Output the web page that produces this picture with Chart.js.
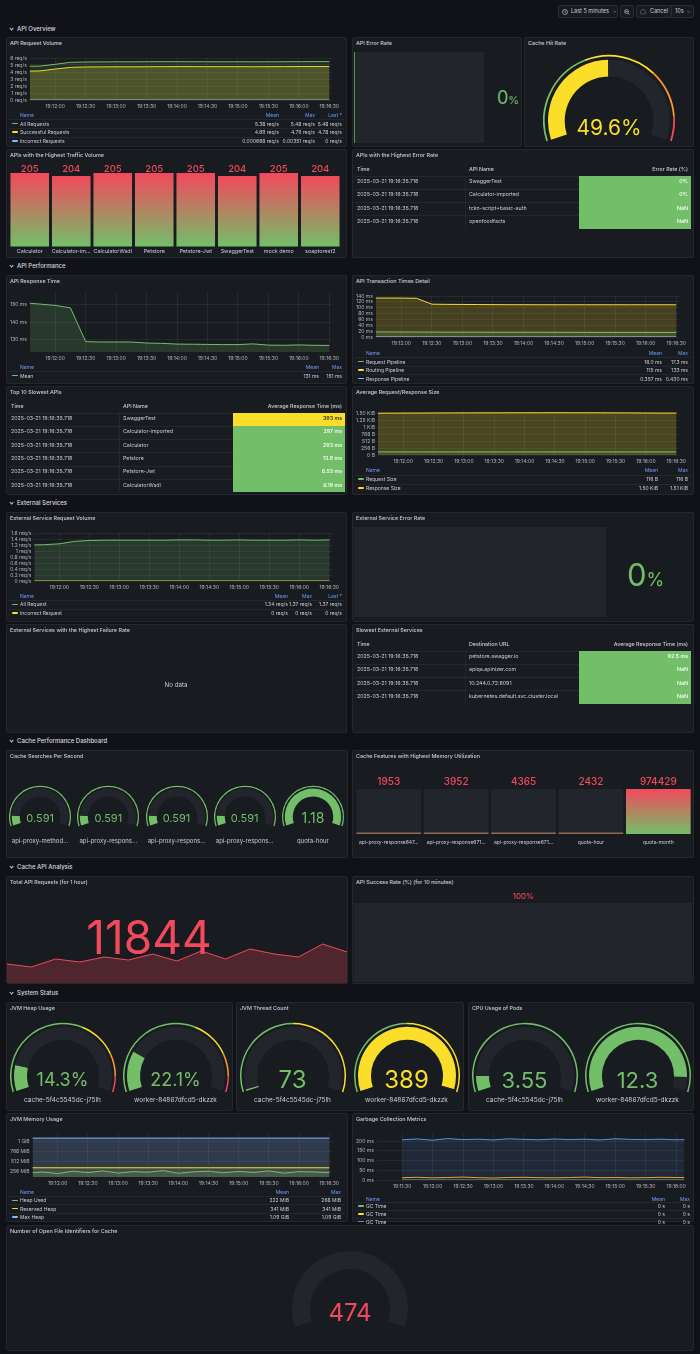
<!DOCTYPE html>
<html>
<head>
<meta charset="utf-8">
<script src="https://cdn.jsdelivr.net/npm/chart.js@4.4.1/dist/chart.umd.min.js"></script>
<style>
  html, body { margin: 0; padding: 0; }
  body { width: 700px; height: 1354px; background: #111217; position: relative; overflow: hidden;
         font-family: Inter, "Noto Sans", sans-serif; color: #ccccdc; }
  .panel { position: absolute; background: #181b1f; border: 1px solid #24272d; border-radius: 2px; box-sizing: border-box; }
  .t { position: absolute; white-space: nowrap; line-height: 1; }
  .r { position: absolute; }
  .r svg { display: block; }
  canvas { position: absolute; }
</style>
</head>
<body>
<script>
// ---------- data ----------
const sampleTimes = ['19:11:30','19:11:45','19:12:00','19:12:15','19:12:30','19:12:45','19:13:00','19:13:15','19:13:30','19:13:45',
  '19:14:00','19:14:15','19:14:30','19:14:45','19:15:00','19:15:15','19:15:30','19:15:45','19:16:00','19:16:15','19:16:30'];
const timeTicks = ['19:11:30','19:12:00','19:12:30','19:13:00','19:13:30','19:14:00','19:14:30','19:15:00','19:15:30','19:16:00','19:16:30'];

const allRequests = [4.82,4.84,5.10,5.38,5.43,5.44,5.45,5.45,5.46,5.47,5.47,5.46,5.46,5.45,5.46,5.45,5.45,5.46,5.47,5.48,5.48];
const successfulRequests = [4.12,4.15,4.42,4.66,4.72,4.73,4.74,4.74,4.75,4.76,4.77,4.77,4.76,4.76,4.76,4.75,4.76,4.77,4.78,4.78,4.78];
const incorrectRequests = [0,0,0,0,0,0,0,0.0035,0,0,0,0,0,0,0,0,0,0,0,0,0];
const reqVolumeStats = [['5.38 req/s','5.48 req/s','5.48 req/s'],['4.69 req/s','4.79 req/s','4.78 req/s'],['0.000668 req/s','0.00351 req/s','0 req/s']];

const apiErrorRate = 0;
const cacheHitRate = 49.6;

const trafficApis = ['Calculator','Calculator-imported','CalculatorWsdl','Petstore','Petstore-Jwt','SwaggerTest','mock demo','soaptorest2'];
const trafficCounts = [205,204,205,205,205,204,205,204];

const snapshotTime = '2025-03-21 19:16:35.718';
const errorRateApis = ['SwaggerTest','Calculator-imported','tckn-script+basic-auth','openfoodfacts'];
const errorRates = [0,0,NaN,NaN];

const responseTimeMean = [151.2,150.5,149.7,148.3,128.7,128.5,128.5,128.5,127.9,127.7,127.3,127.2,127.1,127.0,127.0,127.4,126.7,126.6,126.8,126.6,126.5];
const responseTimeStats = [['131 ms','151 ms']];

const requestPipeline = [17.3,17.2,17.0,16.8,16.5,16.4,16.3,16.2,16.1,16.0,16.0,15.9,15.8,15.7,15.6,15.6,15.5,15.5,15.5,15.4,15.4];
const routingPipeline = [133,133,132.8,132.2,112,111.5,111.2,110.8,110.5,110.3,110.2,110.1,110,110,110,110,110,110,110,110,110];
const responsePipeline = [0.43,0.41,0.39,0.38,0.36,0.36,0.35,0.35,0.35,0.35,0.35,0.35,0.35,0.35,0.35,0.35,0.35,0.35,0.35,0.35,0.35];
const transactionStats = [['16.0 ms','17.3 ms'],['115 ms','133 ms'],['0.357 ms','0.430 ms']];

const slowApis = ['SwaggerTest','Calculator-imported','Calculator','Petstore','Petstore-Jwt','CalculatorWsdl'];
const slowApiMs = [393,297,293,13.8,6.53,6.19];

const requestSize = [116,116,116,116,116,116,116,116,116,116,116,116,116,116,116,116,116,116,116,116,116];
const responseSize = [1530,1532,1534,1536,1538,1540,1541,1542,1543,1544,1545,1545,1546,1545,1544,1544,1542,1540,1537,1535,1534];
const sizeStats = [['116 B','116 B'],['1.50 KiB','1.51 KiB']];

const extAllRequest = [1.20,1.21,1.24,1.32,1.35,1.36,1.36,1.36,1.36,1.36,1.37,1.37,1.36,1.36,1.37,1.36,1.36,1.36,1.37,1.36,1.37];
const extIncorrectRequest = [0,0,0,0,0,0,0,0,0,0,0,0,0,0,0,0,0,0,0,0,0];
const extStats = [['1.34 req/s','1.37 req/s','1.37 req/s'],['0 req/s','0 req/s','0 req/s']];
const extErrorRate = 0;

const slowExtUrls = ['petstore.swagger.io','apiqa.apinizer.com','10.244.0.72:8091','kubernetes.default.svc.cluster.local'];
const slowExtMs = [92.5,NaN,NaN,NaN];

const cacheSearchNames = ['api-proxy-method...','api-proxy-respons...','api-proxy-respons...','api-proxy-respons...','quota-hour'];
const cacheSearchRates = [0.591,0.591,0.591,0.591,1.18];

const cacheFeatures = ['api-proxy-response647...','api-proxy-response671...','api-proxy-response671...','quota-hour','quota-month'];
const cacheMemory = [1953,3952,4365,2432,974429];

const totalRequests = 11844;
const requestsTrend = [380,320,480,420,520,460,580,440,640,480,680,580,520,780,620];
const successRate = 100;

const podNames = ['cache-5f4c5545dc-j75lh','worker-84867dfcd5-dkzzk'];
const heapUsage = [14.3,22.1];
const threadCount = [73,389];
const cpuUsage = [3.55,12.3];

const heapUsed = [205,230,190,250,215,260,200,240,225,268,195,235,250,210,245,220,260,200,240,230,215];
const reservedHeap = [341,341,341,341,341,341,341,341,341,341,341,341,341,341,341,341,341,341,341,341,341];
const maxHeap = [1116,1116,1116,1116,1116,1116,1116,1116,1116,1116,1116,1116,1116,1116,1116,1116,1116,1116,1116,1116,1116];
const memoryStats = [['222 MiB','268 MiB'],['341 MiB','341 MiB'],['1.09 GiB','1.09 GiB']];

const gcTimeA = [0,0,0,0,0,0,0,0,0,0,0,0,0,0,0,0,0,0,0,0,0];
const gcTimeB = [12,14,11,13,15,12,10,13,14,12,11,13,15,12,13,11,12,14,13,12,12];
const gcTimeC = [208,212,206,214,209,211,207,213,210,208,212,209,211,207,213,210,209,211,208,210,209];
const gcStats = [['0 s','0 s'],['0 s','0 s'],['0 s','0 s']];

const openFiles = 474;

// ---------- style ----------
const GREEN = '#73BF69', YELLOW = '#FADE2A', RED = '#F2495C', ORANGE = '#FF9830', BLUE = '#8AB8FF', GBLUE = '#5794F2';
const TRACK = '#22252b', GRID = 'rgba(204,204,220,0.08)', TICK = '#b4b4c2', HEAD = '#6E9FFF';
const FS = 5;   // small text (ticks, legends)

Chart.defaults.font.family = 'Inter, sans-serif';
Chart.defaults.color = TICK;

// ---------- helpers ----------
function rect(x, y, w, h, bg) {
  const d = document.createElement('div');
  d.className = 'r';
  d.style.cssText = `left:${x}px;top:${y}px;width:${w}px;height:${h}px;background:${bg}`;
  document.body.appendChild(d);
  return d;
}
function hline(x, y, w) { return rect(x, y, w, 1, 'rgba(204,204,220,0.07)'); }

function txt(x, y, s, o) {
  o = o || {};
  const d = document.createElement('div');
  d.className = 't';
  d.textContent = s;
  const tx = o.align === 'c' ? '-50%' : o.align === 'r' ? '-100%' : '0';
  d.style.cssText = `left:${x}px;top:${y}px;transform:translate(${tx},-50%);font-size:${o.size || 6}px;` +
    `color:${o.color || '#ccccdc'};font-weight:${o.weight || 400}`;
  document.body.appendChild(d);
  return d;
}

function panel(x, y, w, h, title) {
  const p = document.createElement('div');
  p.className = 'panel';
  p.style.cssText = `left:${x}px;top:${y}px;width:${w}px;height:${h}px`;
  document.body.appendChild(p);
  if (title) txt(x + 4, y + 6.5, title, {size: 5.4, weight: 500});
}

function rowHeader(label, y) {
  const c = rect(9.5, y - 2.4, 2.2, 2.2, 'transparent');
  c.style.borderRight = '1px solid #ccccdc';
  c.style.borderBottom = '1px solid #ccccdc';
  c.style.transform = 'rotate(45deg)';
  txt(17, y, label, {size: 6, weight: 500, color: '#d8d9e0'});
}

function makeCanvas(x, y, w, h) {
  const c = document.createElement('canvas');
  c.width = w; c.height = h;
  c.style.cssText = `left:${x}px;top:${y}px;width:${w}px;height:${h}px`;
  document.body.appendChild(c);
  return c;
}

const base = 19 * 3600 + 12 * 60;
const toSec = s => { const [h, m, sec] = s.split(':').map(Number); return h * 3600 + m * 60 + sec - base; };
const secs = sampleTimes.map(toSec);
const tickLabel = v => timeTicks[timeTicks.map(toSec).indexOf(v)] || '';

function timeSeries(x, y, w, h, series, yc, xr) {
  xr = xr || [-25, 273];
  return new Chart(makeCanvas(x, y, w, h), {
    type: 'line',
    data: {
      datasets: series.map(s => ({
        data: s.values.map((v, i) => ({x: secs[i], y: v})),
        borderColor: s.color, borderWidth: 1, pointRadius: 0, tension: 0,
        fill: s.fill ? 'start' : false, backgroundColor: s.fill || 'transparent'
      }))
    },
    options: {
      responsive: false, animation: false, events: [], devicePixelRatio: 1,
      layout: {padding: {top: 3, right: 4}},
      plugins: {legend: {display: false}, tooltip: {enabled: false}},
      scales: {
        x: {type: 'linear', min: xr[0], max: xr[1], border: {display: false},
            grid: {color: GRID, drawTicks: false},
            ticks: {stepSize: 30, includeBounds: false, autoSkip: false, maxRotation: 0, padding: 3,
                    font: {size: FS}, color: TICK, callback: tickLabel}},
        y: {min: yc.min, max: yc.max, border: {display: false},
            grid: {color: GRID, drawTicks: false},
            ticks: {stepSize: yc.step, includeBounds: false, autoSkip: false, padding: 3, font: {size: FS}, color: TICK, callback: yc.fmt}}
      }
    }
  });
}

function legend(px, pw, top, rowH, cols, rows) {
  txt(px + 14, top, 'Name', {size: FS, color: HEAD});
  cols.forEach(c => txt(px + c.r, top, c.h, {size: FS, color: HEAD, align: 'r'}));
  rows.forEach((r, i) => {
    const y = top + rowH * (i + 1);
    hline(px + 3, y - rowH / 2, pw - 6);
    rect(px + 6, y - 0.8, 6, 1.6, r.color).style.borderRadius = '1px';
    txt(px + 14, y, r.name, {size: FS});
    r.vals.forEach((v, j) => txt(px + cols[j].r, y, v, {size: FS, align: 'r'}));
  });
}

function table(px, py, heads, rows, cellColors, cellText) {
  const hy = py + 21, top0 = py + 26.5, rh = 13.3, fs = 5.3;
  txt(px + 5, hy, heads[0], {size: fs, weight: 500});
  txt(px + 117, hy, heads[1], {size: fs, weight: 500});
  txt(px + 336, hy, heads[2], {size: fs, weight: 500, align: 'r'});
  rect(px + 113, top0, 1, rh * rows.length, 'rgba(204,204,220,0.06)');
  rows.forEach((r, i) => {
    const y0 = top0 + i * rh;
    hline(px + 3, y0, 224);
    rect(px + 227, y0, 112, rh, cellColors[i]);
    txt(px + 5, y0 + rh / 2, r[0], {size: fs});
    txt(px + 117, y0 + rh / 2, r[1], {size: fs});
    txt(px + 336, y0 + rh / 2, r[2], {size: fs, align: 'r', color: cellText[i], weight: 500});
  });
}

function gauge(cx, cy, R, o) {
  const H = Math.ceil(R * 1.31) + 1;
  const frac = Math.max(0, Math.min(1, (o.value - o.min) / (o.max - o.min)));
  let prev = 0;
  const ringData = o.ring.map(s => { const d = s[0] - prev; prev = s[0]; return d; });
  const inner = R - o.ringW - o.gap - o.band;
  new Chart(makeCanvas(cx - R, cy - R, 2 * R, H), {
    type: 'doughnut',
    data: {datasets: [
      {data: ringData, backgroundColor: o.ring.map(s => s[1]), weight: o.ringW, borderWidth: 0},
      {data: [1], backgroundColor: 'rgba(0,0,0,0)', weight: o.gap, borderWidth: 0},
      {data: [frac, 1 - frac], backgroundColor: [o.color, TRACK], weight: o.band, borderWidth: 0}
    ]},
    options: {responsive: false, animation: false, events: [], devicePixelRatio: 1,
      rotation: -108, circumference: 216, cutout: (inner / R * 100) + '%',
      plugins: {legend: {display: false}, tooltip: {enabled: false}}}
  });
  txt(cx, o.textY, o.text, {size: o.size, color: o.color, align: 'c'});
  if (o.label) txt(cx, o.labelY, o.label, {size: o.labelSize, align: 'c'});
}

function barGradient(ctx) {
  const chart = ctx.chart, y = chart.scales.y;
  if (!y || !ctx.parsed || !chart.chartArea) return RED;
  const b = y.getPixelForValue(y.min), t = y.getPixelForValue(ctx.parsed.y);
  if (!isFinite(b) || !isFinite(t)) return RED;
  if (b - t < 4) return '#8f6b50';
  const g = chart.ctx.createLinearGradient(0, b, 0, t);
  g.addColorStop(0, GREEN); g.addColorStop(1, RED);
  return g;
}

// ---------- toolbar ----------
function toolbarBox(x, w) {
  const b = rect(x, 5, w, 13, '#181b1f');
  b.style.border = '1px solid #2a2d33'; b.style.borderRadius = '2px'; b.style.boxSizing = 'border-box';
}
function svg(x, y, size, inner) {
  const d = document.createElement('div');
  d.className = 'r';
  d.style.cssText = `left:${x}px;top:${y}px;width:${size}px;height:${size}px`;
  d.innerHTML = `<svg width="${size}" height="${size}" viewBox="0 0 12 12" fill="none" stroke="#ccccdc" stroke-width="1.3">${inner}</svg>`;
  document.body.appendChild(d);
}
toolbarBox(558, 60);
svg(561.5, 8.5, 6, '<circle cx="6" cy="6" r="5"/><path d="M6 3v3l2 1.5"/>');
txt(571, 11.7, 'Last 5 minutes', {size: 5.5});
svg(612.5, 10, 3.5, '<path d="M1 3l5 5 5-5"/>');
toolbarBox(620, 14);
svg(624, 8.5, 6, '<circle cx="5" cy="5" r="3.8"/><path d="M8 8l3 3M3 5h4"/>');
toolbarBox(636, 58);
svg(640, 8.5, 6, '<circle cx="6" cy="6" r="4.8" stroke-dasharray="1.6 1.4"/>');
txt(650, 11.7, 'Cancel', {size: 5.5});
rect(671, 6, 1, 11, '#2a2d33');
txt(675, 11.7, '10s', {size: 5.5});
svg(686.5, 10, 3.5, '<path d="M1 3l5 5 5-5"/>');

// ---------- rows ----------
[['API Overview', 29.3], ['API Performance', 266], ['External Services', 503],
 ['Cache Performance Dashboard', 741], ['Cache API Analysis', 867], ['System Status', 993]]
  .forEach(r => rowHeader(r[0], r[1]));

// ---------- API Overview ----------
panel(6, 37, 341, 110, 'API Request Volume');
timeSeries(7, 52, 335, 60, [
  {values: allRequests, color: GREEN, fill: 'rgba(115,191,105,0.12)'},
  {values: successfulRequests, color: YELLOW, fill: 'rgba(250,222,42,0.22)'},
  {values: incorrectRequests, color: BLUE}
], {min: 0, max: 6, step: 1, fmt: v => v + ' req/s'});
legend(6, 341, 115, 8.6, [{h: 'Mean', r: 273}, {h: 'Max', r: 309}, {h: 'Last *', r: 336}], [
  {color: GREEN, name: 'All Requests', vals: reqVolumeStats[0]},
  {color: YELLOW, name: 'Successful Requests', vals: reqVolumeStats[1]},
  {color: BLUE, name: 'Incorrect Requests', vals: reqVolumeStats[2]}
]);

panel(352, 37, 170, 110, 'API Error Rate');
rect(354, 52, 130, 91, TRACK);
rect(354, 52, 1, 91, 'rgba(115,191,105,0.7)');
const er = txt(497, 97.5, '', {size: 18, color: GREEN});
er.innerHTML = apiErrorRate + '<span style="font-size:11px">%</span>';

panel(524, 37, 170, 110, 'Cache Hit Rate');
gauge(609, 119.5, 66, {value: cacheHitRate, min: 0, max: 100, color: YELLOW,
  ring: [[0.4, GREEN], [0.7, YELLOW], [0.9, ORANGE], [1, RED]], ringW: 1.8, gap: 3.2, band: 16.7,
  text: cacheHitRate + '%', size: 21, textY: 127});

panel(6, 149, 341, 109, 'APIs with the Highest Traffic Volume');
const trafficChart = new Chart(makeCanvas(9, 173, 332, 83), {
  type: 'bar',
  data: {labels: trafficApis, datasets: [{data: trafficCounts, backgroundColor: barGradient,
    barPercentage: 0.93, categoryPercentage: 1}]},
  options: {responsive: false, animation: false, events: [], devicePixelRatio: 1,
    plugins: {legend: {display: false}, tooltip: {enabled: false}},
    scales: {
      y: {display: false, min: 180, max: 205},
      x: {border: {display: false}, grid: {display: false, drawTicks: false},
          ticks: {padding: 1.5, font: {size: 5.4}, color: '#ccccdc', autoSkip: false, maxRotation: 0,
                  callback: function (v) { const s = this.getLabelForValue(v); return s.length > 14 ? s.slice(0, 13) + '...' : s; }}}
    }}
});
trafficChart.getDatasetMeta(0).data.forEach((b, i) =>
  txt(9 + b.x, 168.5, String(trafficCounts[i]), {size: 9.5, color: RED, align: 'c', weight: 500}));

panel(352, 149, 342, 109, 'APIs with the Highest Error Rate');
table(352, 149, ['Time', 'API Name', 'Error Rate (%)'],
  errorRateApis.map((n, i) => [snapshotTime, n, isNaN(errorRates[i]) ? 'NaN' : errorRates[i] + '%']),
  errorRates.map(() => GREEN), errorRates.map(() => '#ffffff'));

// ---------- API Performance ----------
panel(6, 275, 341, 109, 'API Response Time');
timeSeries(7, 286, 335, 78, [
  {values: responseTimeMean, color: GREEN, fill: 'rgba(115,191,105,0.18)'}
], {min: 122.7, max: 157.5, step: 10, fmt: v => v + ' ms'});
legend(6, 341, 367, 8.7, [{h: 'Mean', r: 313}, {h: 'Max', r: 336}], [
  {color: GREEN, name: 'Mean', vals: responseTimeStats[0]}
]);

panel(352, 275, 342, 109, 'API Transaction Times Detail');
timeSeries(353, 290, 336, 59, [
  {values: requestPipeline, color: GREEN, fill: 'rgba(115,191,105,0.12)'},
  {values: routingPipeline, color: YELLOW, fill: 'rgba(250,222,42,0.2)'},
  {values: responsePipeline, color: BLUE}
], {min: 0, max: 140, step: 20, fmt: v => v + ' ms'});
legend(352, 342, 353, 8.5, [{h: 'Mean', r: 310}, {h: 'Max', r: 336}], [
  {color: GREEN, name: 'Request Pipeline', vals: transactionStats[0]},
  {color: YELLOW, name: 'Routing Pipeline', vals: transactionStats[1]},
  {color: BLUE, name: 'Response Pipeline', vals: transactionStats[2]}
]);

panel(6, 386, 341, 109, 'Top 10 Slowest APIs');
table(6, 386, ['Time', 'API Name', 'Average Response Time (ms)'],
  slowApis.map((n, i) => [snapshotTime, n, slowApiMs[i] + ' ms']),
  slowApiMs.map(v => v >= 300 ? YELLOW : GREEN), slowApiMs.map(v => v >= 300 ? '#1a1a1a' : '#ffffff'));

panel(352, 386, 342, 109, 'Average Request/Response Size');
timeSeries(353, 405, 336, 62, [
  {values: requestSize, color: GREEN, fill: 'rgba(115,191,105,0.12)'},
  {values: responseSize, color: YELLOW, fill: 'rgba(250,222,42,0.22)'}
], {min: 0, max: 1610, step: 256, fmt: v => { if (v < 1024) return v + ' B'; const k = v / 1024; return (Number.isInteger(k) ? k : k.toFixed(2)) + ' KiB'; }});
legend(352, 342, 470, 9, [{h: 'Mean', r: 306}, {h: 'Max', r: 336}], [
  {color: GREEN, name: 'Request Size', vals: sizeStats[0]},
  {color: YELLOW, name: 'Response Size', vals: sizeStats[1]}
]);

// ---------- External Services ----------
panel(6, 512, 341, 110, 'External Service Request Volume');
timeSeries(7, 527, 335, 66, [
  {values: extAllRequest, color: GREEN, fill: 'rgba(115,191,105,0.18)'},
  {values: extIncorrectRequest, color: YELLOW}
], {min: 0, max: 1.6, step: 0.2, fmt: v => (+v.toFixed(1)) + ' req/s'});
legend(6, 341, 595.5, 8.8, [{h: 'Mean', r: 282}, {h: 'Max', r: 306}, {h: 'Last *', r: 336}], [
  {color: GREEN, name: 'All Request', vals: extStats[0]},
  {color: YELLOW, name: 'Incorrect Request', vals: extStats[1]}
]);

panel(352, 512, 342, 110, 'External Service Error Rate');
rect(354, 527, 252, 90, TRACK);
const eer = txt(627, 574, '', {size: 31, color: GREEN});
eer.innerHTML = extErrorRate + '<span style="font-size:18px">%</span>';

panel(6, 624, 341, 109, 'External Services with the Highest Failure Rate');
txt(176, 685, 'No data', {size: 6.2, align: 'c'});

panel(352, 624, 342, 109, 'Slowest External Services');
table(352, 624, ['Time', 'Destination URL', 'Average Response Time (ms)'],
  slowExtUrls.map((u, i) => [snapshotTime, u, isNaN(slowExtMs[i]) ? 'NaN' : slowExtMs[i] + ' ms']),
  slowExtMs.map(() => GREEN), slowExtMs.map(() => '#ffffff'));

// ---------- Cache Performance ----------
panel(6, 750, 342, 108, 'Cache Searches Per Second');
cacheSearchRates.forEach((v, i) => gauge(40.1 + 68.2 * i, 816, 31, {value: v, min: 0.53, max: 1.18, color: GREEN,
  ring: [[1, GREEN]], ringW: 1.2, gap: 1.6, band: 8,
  text: String(v), size: String(v).length > 4 ? 11 : 14, textY: 818,
  label: cacheSearchNames[i], labelY: 841, labelSize: 6}));

panel(352, 750, 342, 108, 'Cache Features with Highest Memory Utilization');
const memMax = Math.max(...cacheMemory);
const memChart = new Chart(makeCanvas(354, 789, 338, 61), {
  type: 'bar',
  data: {labels: cacheFeatures, datasets: [
    {data: cacheMemory, backgroundColor: barGradient, minBarLength: 1.5, barPercentage: 0.96, categoryPercentage: 1, grouped: false, order: 1},
    {data: cacheMemory.map(() => memMax), backgroundColor: TRACK, barPercentage: 0.96, categoryPercentage: 1, grouped: false, order: 2}
  ]},
  options: {responsive: false, animation: false, events: [], devicePixelRatio: 1,
    plugins: {legend: {display: false}, tooltip: {enabled: false}},
    scales: {
      y: {display: false, min: 0, max: memMax},
      x: {border: {display: false}, grid: {display: false, drawTicks: false},
          ticks: {padding: 5, font: {size: FS}, color: '#ccccdc', autoSkip: false, maxRotation: 0}}
    }}
});
memChart.getDatasetMeta(0).data.forEach((b, i) =>
  txt(354 + b.x, 781, String(cacheMemory[i]), {size: 10, color: RED, align: 'c', weight: 500}));

// ---------- Cache API Analysis ----------
panel(6, 876, 342, 108, 'Total API Requests (for 1 hour)');
new Chart(makeCanvas(7, 930, 340, 53), {
  type: 'line',
  data: {labels: requestsTrend.map((_, i) => i), datasets: [{data: requestsTrend, borderColor: RED, borderWidth: 1,
    pointRadius: 0, tension: 0, fill: 'origin', backgroundColor: 'rgba(242,73,92,0.25)'}]},
  options: {responsive: false, animation: false, events: [], devicePixelRatio: 1,
    plugins: {legend: {display: false}, tooltip: {enabled: false}},
    scales: {x: {display: false, offset: false}, y: {display: false, min: 0, max: 1060}}}
});
txt(149, 937, String(totalRequests), {size: 46, color: RED, align: 'c'});

panel(352, 876, 342, 108, 'API Success Rate (%) (for 10 minutes)');
txt(523, 896, successRate + '%', {size: 8, color: RED, align: 'c'});
rect(354, 903, 338, 79, TRACK);

// ---------- System Status ----------
panel(6, 1002, 227, 109, 'JVM Heap Usage');
heapUsage.forEach((v, i) => gauge(62.5 + 113 * i, 1075, 53, {value: v, min: 0, max: 100, color: GREEN,
  ring: [[0.6, GREEN], [0.8, YELLOW], [0.92, ORANGE], [1, RED]], ringW: 1.5, gap: 2.5, band: 13,
  text: v + '%', size: 18, textY: 1080, label: podNames[i], labelY: 1100, labelSize: 6.5}));

panel(236, 1002, 228, 109, 'JVM Thread Count');
threadCount.forEach((v, i) => gauge(292.5 + 114 * i, 1075, 53, {value: v, min: 70, max: 392,
  color: v > 230 ? YELLOW : GREEN,
  ring: [[0.5, GREEN], [1, YELLOW]], ringW: 1.5, gap: 2.5, band: 13,
  text: String(v), size: 24, textY: 1080, label: podNames[i], labelY: 1100, labelSize: 6.5}));

panel(468, 1002, 226, 109, 'CPU Usage of Pods');
cpuUsage.forEach((v, i) => gauge(524.5 + 113 * i, 1075, 53, {value: v, min: 2.7, max: 13.1, color: GREEN,
  ring: [[1, GREEN]], ringW: 1.5, gap: 2.5, band: 13,
  text: String(v), size: 22, textY: 1080, label: podNames[i], labelY: 1100, labelSize: 6.5}));

panel(6, 1113, 342, 109, 'JVM Memory Usage');
timeSeries(7, 1127, 335, 62, [
  {values: heapUsed, color: GREEN, fill: 'rgba(115,191,105,0.12)'},
  {values: reservedHeap, color: YELLOW, fill: 'rgba(250,222,42,0.1)'},
  {values: maxHeap, color: BLUE, fill: 'rgba(138,184,255,0.2)'}
], {min: 100, max: 1250, step: 256, fmt: v => v >= 1024 ? (v / 1024) + ' GiB' : v + ' MiB'});
legend(6, 342, 1192, 8.3, [{h: 'Mean', r: 283}, {h: 'Max', r: 335}], [
  {color: GREEN, name: 'Heap Used', vals: memoryStats[0]},
  {color: YELLOW, name: 'Reserved Heap', vals: memoryStats[1]},
  {color: BLUE, name: 'Max Heap', vals: memoryStats[2]}
]);

panel(352, 1113, 342, 109, 'Garbage Collection Metrics');
timeSeries(353, 1127, 336, 65, [
  {values: gcTimeA, color: GREEN},
  {values: gcTimeB, color: ORANGE},
  {values: gcTimeC, color: GBLUE, fill: 'rgba(87,148,242,0.12)'}
], {min: 0, max: 243, step: 50, fmt: v => v + ' ms'}, [-55, 248]);
legend(352, 342, 1198.5, 7.7, [{h: 'Mean', r: 313}, {h: 'Max', r: 338}], [
  {color: GREEN, name: 'GC Time', vals: gcStats[0]},
  {color: YELLOW, name: 'GC Time', vals: gcStats[1]},
  {color: GBLUE, name: 'GC Time', vals: gcStats[2]}
]);

panel(6, 1225, 688, 126, 'Number of Open File Identifiers for Cache');
gauge(350, 1308, 62, {value: 0, min: 0, max: 1, color: RED,
  ring: [[1, 'rgba(0,0,0,0)']], ringW: 1.5, gap: 2.5, band: 18,
  text: String(openFiles), size: 24, textY: 1313});
</script>
</body>
</html>
